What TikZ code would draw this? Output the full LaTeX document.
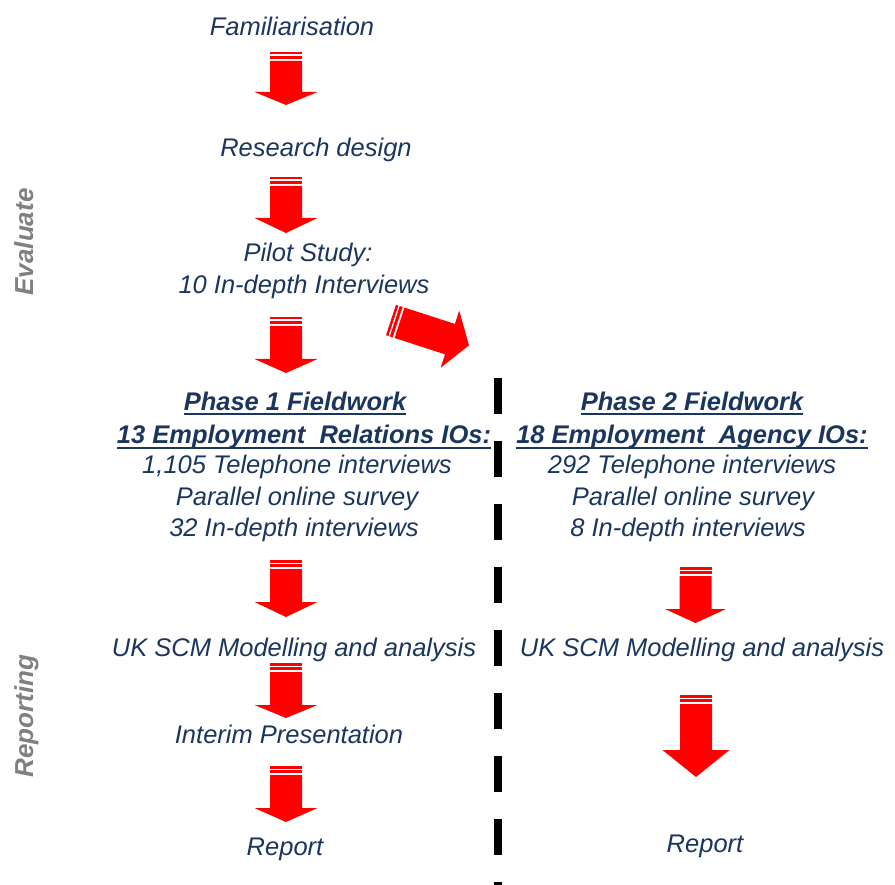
\documentclass[tikz,border=0pt]{standalone}
\usepackage{fontspec}
\setmainfont{Liberation Sans}
\definecolor{txtblue}{RGB}{26,54,94}
\definecolor{arrowred}{RGB}{255,0,0}
\definecolor{sidegray}{RGB}{128,128,128}
\newcommand{\stripearrow}[6]{%
  \begin{scope}[shift={(#1,#2)}, rotate=#6]
    \fill[arrowred] (-16,0) rectangle (16,2.5);
    \fill[arrowred] (-16,4) rectangle (16,7);
    \fill[arrowred] (-16,9) -- (16,9) -- (16,#3-#4) -- (#5,#3-#4) -- (0,#3)
      -- (-#5,#3-#4) -- (-16,#3-#4) -- cycle;
  \end{scope}}
\begin{document}
\begin{tikzpicture}[x=1pt,y=-1pt,
  lbl/.style={inner sep=0pt, anchor=base, text=txtblue,
    font=\fontsize{25.5}{30}\selectfont\itshape},
  hdr/.style={lbl, font=\fontsize{25.5}{30}\selectfont\bfseries\itshape},
  side/.style={inner sep=0pt, anchor=base, rotate=90, text=sidegray,
    font=\fontsize{26}{30}\selectfont\bfseries\itshape},
  ul/.style={draw=txtblue, line width=2pt},
  divider/.style={line width=8pt, dash pattern=on 36pt off 27pt}]
\useasboundingbox (0,0) rectangle (895,885);
\fill[white] (0,0) rectangle (895,885);

% side labels
\node[side] (eval) at (33,242) {Evaluate};
\node[side] (repl) at (33,716) {Reporting};

% left column
\node[lbl] (fam) at (292,36) {Familiarisation};
\node[lbl] (rd) at (316,157) {Research design};
\node[lbl] (pilot1) at (308,262) {Pilot Study:};
\node[lbl] (pilot2) at (304,294) {10 In-depth Interviews};
\node[hdr] (ph1) at (295,410) {Phase 1 Fieldwork};
\node[hdr] (er) at (304,444) {13 Employment\ \ Relations IOs:};
\node[lbl] (tel1) at (297,474) {1,105 Telephone interviews};
\node[lbl] (par1) at (297,505) {Parallel online survey};
\node[lbl] (ind1) at (294,536) {32 In-depth interviews};
\node[lbl] (uk1) at (294,656) {UK SCM Modelling and analysis};
\node[lbl] (interim) at (289,743) {Interim Presentation};
\node[lbl] (rep1) at (285,855) {Report};

% right column
\node[hdr] (ph2) at (692,410) {Phase 2 Fieldwork};
\node[hdr] (ea) at (692,444) {18 Employment\ \ Agency IOs:};
\node[lbl] (tel2) at (692,474) {292 Telephone interviews};
\node[lbl] (par2) at (693,505) {Parallel online survey};
\node[lbl] (ind2) at (688,536) {8 In-depth interviews};
\node[lbl] (uk2) at (702,656) {UK SCM Modelling and analysis};
\node[lbl] (rep2) at (705,852) {Report};

% underlines
\foreach \n in {ph1,er,ph2,ea}
  \draw[ul] ([yshift=-4pt]\n.base west) -- ([yshift=-4pt]\n.base east);

% divider
\coordinate (dtop) at (498,378);
\coordinate (dbot) at (498,885);
\draw[divider] (dtop) -- (dbot);

% block arrows
\stripearrow{286}{52}{53}{13}{31.5}{0}
\stripearrow{286}{177}{56}{15}{31.5}{0}
\stripearrow{286}{317}{56}{14}{31.5}{0}
\stripearrow{391}{320}{82}{20}{30}{72}
\stripearrow{286}{560}{57}{15}{31.5}{0}
\stripearrow{286}{663}{55}{13}{31.5}{0}
\stripearrow{286}{766}{56}{14}{31.5}{0}
\stripearrow{695.5}{567}{56}{14}{30.5}{0}
\stripearrow{696}{695}{82}{27}{33.5}{0}
\end{tikzpicture}
\end{document}
